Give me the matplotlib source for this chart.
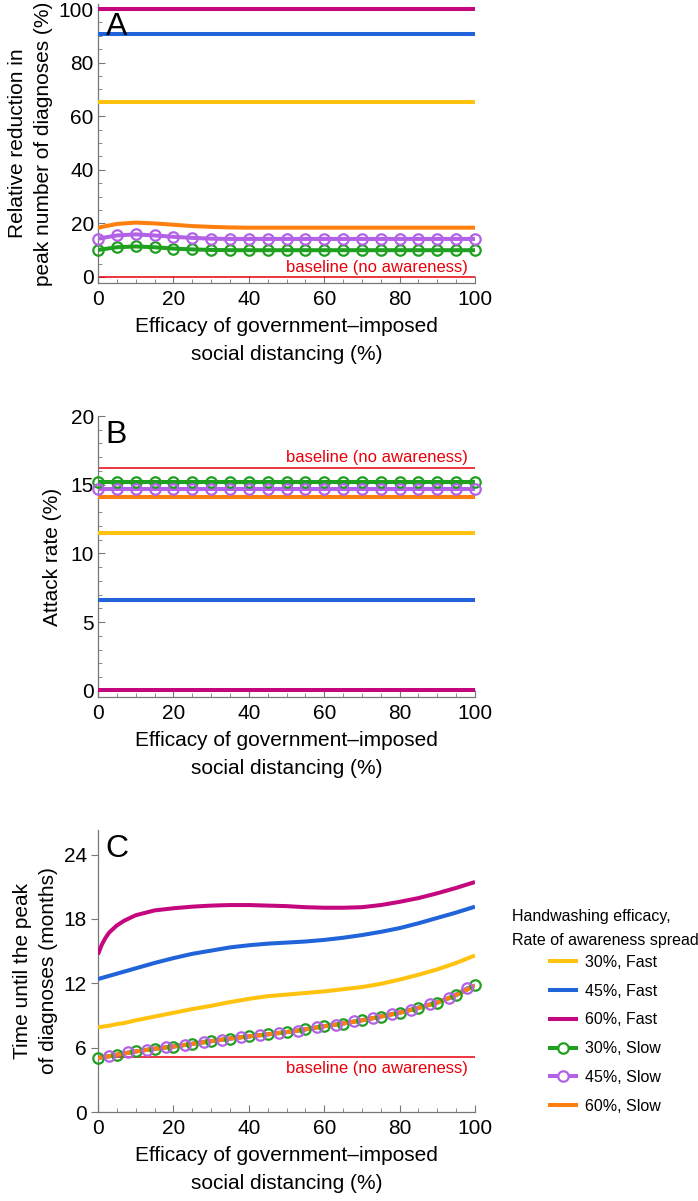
import numpy as np
import matplotlib.pyplot as plt
from matplotlib.lines import Line2D
from matplotlib.ticker import MultipleLocator

plt.rcParams['font.family'] = ['Liberation Sans', 'DejaVu Sans']

# Colours (Mathematica-like)
YELLOW = '#FFC20E'
BLUE = '#2163D8'
MAGENTA = '#C4077E'
GREEN = '#1FA01F'
PURPLE = '#B361E6'
ORANGE = '#FF7F0E'
RED = '#E8000B'

labels = ['30%, Fast', '45%, Fast', '60%, Fast', '30%, Slow', '45%, Slow', '60%, Slow']

# Panel A: relative reduction in peak number of diagnoses (%)
xa = [0, 5, 10, 15, 20, 25, 30, 35, 40, 45, 50, 55, 60, 65, 70, 75, 80, 85, 90, 95, 100]
a_fast30 = [65.3] * 21
a_fast45 = [90.5] * 21
a_fast60 = [100.0] * 21
a_slow30 = [10.1, 11.1, 11.4, 11.1, 10.6, 10.3, 10.1, 10.0, 10.0, 10.0, 10.0,
            10.0, 10.0, 10.0, 10.0, 10.0, 10.0, 10.0, 10.0, 10.0, 10.0]
a_slow45 = [14.3, 15.5, 15.9, 15.5, 15.0, 14.6, 14.3, 14.2, 14.2, 14.2, 14.2,
            14.2, 14.2, 14.2, 14.2, 14.2, 14.2, 14.2, 14.2, 14.2, 14.2]
a_slow60 = [18.4, 19.8, 20.3, 20.0, 19.5, 19.0, 18.7, 18.5, 18.4, 18.4, 18.4,
            18.4, 18.4, 18.4, 18.4, 18.4, 18.4, 18.4, 18.4, 18.4, 18.4]
a_base = 0.0

# Panel B: attack rate (%)
b_fast30 = [11.5] * 21
b_fast45 = [6.6] * 21
b_fast60 = [0.1] * 21
b_slow30 = [15.2] * 21
b_slow45 = [14.7] * 21
b_slow60 = [14.1] * 21
b_base = 16.2

# Panel C: time until the peak of diagnoses (months)
xc = [0, 1, 2, 3, 5, 7, 10, 15, 20, 25, 30, 35, 40, 45, 50, 55, 60, 65, 70, 75, 80, 85, 90, 95, 100]
c_fast60 = [14.7, 15.6, 16.25, 16.75, 17.4, 17.85, 18.35, 18.8, 19.0, 19.15, 19.25, 19.3, 19.3,
            19.25, 19.2, 19.1, 19.05, 19.05, 19.1, 19.3, 19.6, 19.95, 20.4, 20.9, 21.45]
c_fast45 = [12.4, 12.5, 12.6, 12.7, 12.9, 13.1, 13.4, 13.9, 14.35, 14.75, 15.05, 15.35, 15.55,
            15.7, 15.8, 15.9, 16.05, 16.25, 16.5, 16.8, 17.15, 17.6, 18.1, 18.6, 19.15]
c_fast30 = [7.9, 7.95, 8.0, 8.05, 8.2, 8.3, 8.55, 8.9, 9.25, 9.6, 9.9, 10.25, 10.55,
            10.8, 10.95, 11.1, 11.25, 11.45, 11.65, 11.95, 12.35, 12.8, 13.3, 13.9, 14.6]
c_slow60 = [5.05, 5.1, 5.15, 5.2, 5.35, 5.45, 5.65, 5.9, 6.1, 6.35, 6.6, 6.85, 7.05,
            7.25, 7.45, 7.7, 8.0, 8.25, 8.55, 8.9, 9.25, 9.7, 10.2, 10.9, 11.8]
c_slow30 = c_slow60
xc_green = [0, 5, 10, 15, 20, 25, 30, 35, 40, 45, 50, 55, 60, 65, 70, 75, 80, 85, 90, 95, 100]
c_slow30_marks = [5.05, 5.35, 5.65, 5.9, 6.1, 6.35, 6.6, 6.85, 7.05, 7.25, 7.45,
                  7.7, 8.0, 8.25, 8.55, 8.9, 9.25, 9.7, 10.2, 10.9, 11.8]
xc_p = [0, 3, 8, 13, 18, 23, 28, 33, 38, 43, 48, 53, 58, 63, 68, 73, 78, 83, 88, 93, 98, 100]
c_slow45 = [5.05, 5.2, 5.55, 5.8, 6.05, 6.25, 6.55, 6.75, 7.0, 7.15, 7.35,
            7.6, 7.9, 8.15, 8.45, 8.75, 9.15, 9.55, 10.05, 10.6, 11.55, 11.8]
c_base = 5.15

xlabel = 'Efficacy of government\u2013imposed\nsocial distancing (%)'

LW = 2.9
MS = 7.5
MEW = 1.6


def style_axes(ax, ylim, ymajor, yminor, ydir='in'):
    ax.set_xlim(0, 100)
    ax.set_ylim(*ylim)
    for s in ['top', 'right']:
        ax.spines[s].set_visible(False)
    for s in ['left', 'bottom']:
        ax.spines[s].set_color('#777777')
        ax.spines[s].set_linewidth(0.9)
    ax.xaxis.set_major_locator(MultipleLocator(20))
    ax.xaxis.set_minor_locator(MultipleLocator(5))
    ax.yaxis.set_major_locator(MultipleLocator(ymajor))
    if yminor:
        ax.yaxis.set_minor_locator(MultipleLocator(yminor))
    ax.tick_params(axis='x', which='both', direction='in', color='#777777', labelsize=15, pad=5)
    ax.tick_params(axis='y', which='major', direction=ydir, color='#777777', labelsize=15, pad=3)
    ax.tick_params(axis='y', which='minor', direction='in', color='#777777')
    ax.tick_params(which='major', length=5)
    ax.tick_params(which='minor', length=3)
    ax.set_xlabel(xlabel, fontsize=15, linespacing=1.55, labelpad=6)


def draw(ax, x, fast30, fast45, fast60, slow30, slow45, slow60, px=None):
    # Draw order follows the legend: fast curves first, slow curves on top.
    ax.plot(x, fast30, color=YELLOW, lw=LW, solid_capstyle='butt', zorder=3)
    ax.plot(x, fast45, color=BLUE, lw=LW, solid_capstyle='butt', zorder=3)
    ax.plot(x, fast60, color=MAGENTA, lw=LW, solid_capstyle='butt', zorder=3)
    ax.plot(x, slow30, color=GREEN, lw=LW, solid_capstyle='butt', zorder=3)
    ax.plot(x if px is None else px, slow45, color=PURPLE, lw=LW, solid_capstyle='butt', zorder=3)
    ax.plot(x, slow60, color=ORANGE, lw=LW, solid_capstyle='butt', zorder=3)


def marks(ax, x, y, color):
    ax.plot(x, y, ls='none', marker='o', ms=MS, mfc='none', mec=color, mew=MEW,
            zorder=4, clip_on=False)


fig = plt.figure(figsize=(6.98, 12.01), dpi=100)
W, H = 698, 1201


def add_axes(top_px, bottom_px):
    return fig.add_axes([98 / W, 1 - bottom_px / H, 377 / W, (bottom_px - top_px) / H])


# ---- Panel A
ax = add_axes(4, 283)
style_axes(ax, (-2.24, 101.87), 20, 5)
draw(ax, xa, a_fast30, a_fast45, a_fast60, a_slow30, a_slow45, a_slow60)
marks(ax, xa, a_slow30, GREEN)
marks(ax, xa, a_slow45, PURPLE)
ax.axhline(a_base, color=RED, lw=1.1, zorder=2)
ax.text(98, a_base + 0.6, 'baseline (no awareness)', color=RED, fontsize=12, ha='right', va='bottom')
ax.text(0.02, 0.97, 'A', transform=ax.transAxes, fontsize=23, va='top', ha='left')
ax.set_ylabel('Relative reduction in\npeak number of diagnoses (%)', fontsize=15, linespacing=1.45, labelpad=4)

# ---- Panel B
ax = add_axes(416, 697)
style_axes(ax, (-0.44, 20), 5, 1)
draw(ax, xa, b_fast30, b_fast45, b_fast60, b_slow30, b_slow45, b_slow60)
marks(ax, xa, b_slow30, GREEN)
marks(ax, xa, b_slow45, PURPLE)
ax.plot([0, 100], [b_base, b_base], color=RED, lw=1.1, zorder=2)
ax.text(98, b_base + 0.2, 'baseline (no awareness)', color=RED, fontsize=12, ha='right', va='bottom')
ax.text(0.02, 0.985, 'B', transform=ax.transAxes, fontsize=23, va='top', ha='left')
ax.set_ylabel('Attack rate (%)', fontsize=15, labelpad=6)

# ---- Panel C
ax = add_axes(830, 1112)
style_axes(ax, (0, 26.3), 6, None, ydir='out')
draw(ax, xc, c_fast30, c_fast45, c_fast60, c_slow30, c_slow45, c_slow60, px=xc_p)
marks(ax, xc_green, c_slow30_marks, GREEN)
marks(ax, xc_p[1:-1], c_slow45[1:-1], PURPLE)
ax.plot([0, 100], [c_base, c_base], color=RED, lw=1.1, zorder=2)
ax.text(98, c_base - 0.35, 'baseline (no awareness)', color=RED, fontsize=12, ha='right', va='top')
ax.text(0.02, 0.985, 'C', transform=ax.transAxes, fontsize=23, va='top', ha='left')
ax.set_ylabel('Time until the peak\nof diagnoses (months)', fontsize=15, linespacing=1.45, labelpad=4)

# ---- Legend
fig.text(512 / W, 1 - 917 / H, 'Handwashing efficacy,', fontsize=11.5, va='center', ha='left')
fig.text(512 / W, 1 - 940 / H, 'Rate of awareness spread', fontsize=11.5, va='center', ha='left')
handles = [
    Line2D([], [], color=YELLOW, lw=LW),
    Line2D([], [], color=BLUE, lw=LW),
    Line2D([], [], color=MAGENTA, lw=LW),
    Line2D([], [], color=GREEN, lw=LW, marker='o', ms=MS, mfc='white', mec=GREEN, mew=MEW),
    Line2D([], [], color=PURPLE, lw=LW, marker='o', ms=MS, mfc='white', mec=PURPLE, mew=MEW),
    Line2D([], [], color=ORANGE, lw=LW),
]
fig.legend(handles, labels, loc='upper left', bbox_to_anchor=(550 / W, 1 - 955 / H),
           frameon=False, fontsize=11.5, handlelength=1.6, handletextpad=0.6,
           labelspacing=0.86, borderpad=0, borderaxespad=0)

fig.savefig('out.png', dpi=100)
